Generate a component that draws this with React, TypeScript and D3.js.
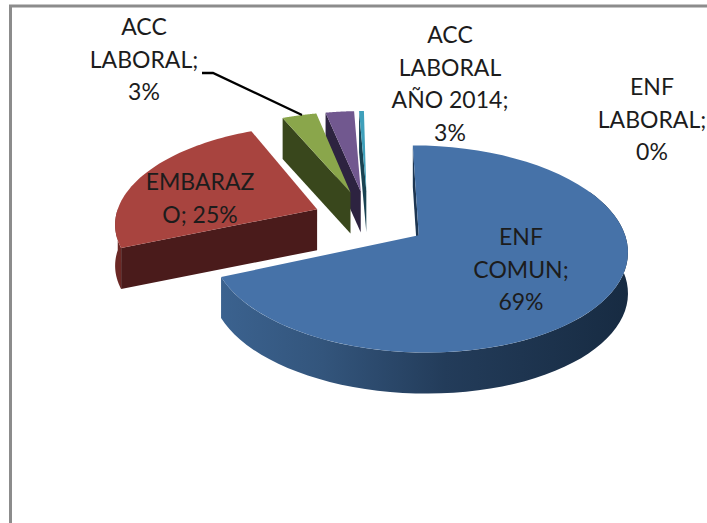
import React from "react";
import * as D3 from "d3";

const categories = ["ENF COMUN", "EMBARAZO", "ACC LABORAL", "ACC LABORAL AÑO 2014", "ENF LABORAL"];
const shares = [68.8, 24.9, 3.2, 2.65, 0.45];
const explodes = [0.295, 0.275, 0.295, 0.295, 0.295];
const topColors = ["#4672a8", "#a8443f", "#8aa64b", "#71588f", "#3fa0bb"];
const sideColors = ["#1d3652", "#4a1b1b", "#39471c", "#2d2340", "#1a4352"];
const labelLines = [
  ["ENF", "COMUN;", "69%"],
  ["EMBARAZ", "O; 25%"],
  ["ACC", "LABORAL;", "3%"],
  ["ACC", "LABORAL", "AÑO 2014;", "3%"],
  ["ENF", "LABORAL;", "0%"],
];
const labelAnchors: [number, number][] = [
  [521, 237],
  [200, 182],
  [144, 27],
  [450, 35],
  [652, 87],
];

const W = 707;
const H = 523;
const CX = 368;
const CY = 219;
const RX = 202;
const RY = 97.5;
const K = 0.13;
const DEPTH = 41;

const pieGen = D3.pie<number>()
  .sort(null)
  .value((d) => d)
  .endAngle(Math.PI * 2 - 0.015);
const arcs = pieGen(shares);

function project(px: number, py: number): [number, number] {
  const f = 1 / (1 - K * py);
  return [CX + RX * px * f, CY + RY * py * f];
}
function tip(a: D3.PieArcDatum<number>, i: number): [number, number] {
  const m = (a.startAngle + a.endAngle) / 2;
  return [explodes[i] * Math.sin(m), -explodes[i] * Math.cos(m)];
}
function rim(a: D3.PieArcDatum<number>, i: number, t: number): [number, number] {
  const o = tip(a, i);
  return project(o[0] + Math.sin(t), o[1] - Math.cos(t));
}
function line(points: [number, number][]) {
  return (D3.line()(points) as string) + "Z";
}
function samples(a0: number, a1: number) {
  return D3.range(0, 61).map((k) => a0 + ((a1 - a0) * k) / 60);
}
function lowered(p: [number, number]): [number, number] {
  return [p[0], p[1] + DEPTH];
}

function Slice({ a, i }: { a: D3.PieArcDatum<number>; i: number }) {
  const o = tip(a, i);
  const t = project(o[0], o[1]);
  const top = [t, ...samples(a.startAngle, a.endAngle).map((x) => rim(a, i, x))] as [number, number][];
  const s = rim(a, i, a.startAngle);
  const face = line([t, s, lowered(s), lowered(t)]);
  const from = Math.max(a.startAngle, Math.PI * 0.35);
  const to = Math.min(a.endAngle, Math.PI * 1.5);
  const wallPts = from < to ? samples(from, to).map((x) => rim(a, i, x)) : [];
  const wall = wallPts.length
    ? line([...wallPts, ...wallPts.map(lowered).reverse()])
    : null;
  return (
    <g>
      {wall && <path d={wall} fill={i === 0 ? "url(#blueWall)" : i === 1 ? "#6b2825" : sideColors[i]} />}
      <path d={face} fill={sideColors[i]} />
      <path d={line(top)} fill={topColors[i]} />
    </g>
  );
}

export default function App() {
  const order = [4, 3, 2, 1, 0];
  return (
    <svg
      width={W}
      height={H}
      viewBox={`0 0 ${W} ${H}`}
      style={{ position: "fixed", left: 0, top: 0, background: "#fff" }}
    >
      <defs>
        <linearGradient id="blueWall" x1="0" x2="1" y1="0" y2="0">
          <stop offset="0" stopColor="#3b628f" />
          <stop offset="0.25" stopColor="#33557c" />
          <stop offset="0.55" stopColor="#233c5a" />
          <stop offset="1" stopColor="#172b42" />
        </linearGradient>
      </defs>
      <path d={`M10.5 ${H}V6H${W}`} fill="none" stroke="#8c8c8c" strokeWidth={3} />
      {order.map((i) => (
        <Slice key={categories[i]} a={arcs[i]} i={i} />
      ))}
      <path d="M202 73L213 73L302 115" fill="none" stroke="#000" strokeWidth={2.3} />
      {labelLines.map((lines, i) => (
        <text
          key={categories[i]}
          x={labelAnchors[i][0]}
          y={labelAnchors[i][1]}
          textAnchor="middle"
          fontFamily="Lato, 'Open Sans', sans-serif"
          fontSize={23}
          fill="#1c1c1c"
        >
          {lines.map((l, j) => (
            <tspan key={j} x={labelAnchors[i][0]} dy={j === 0 ? 8 : 32.5}>
              {l}
            </tspan>
          ))}
        </text>
      ))}
    </svg>
  );
}
